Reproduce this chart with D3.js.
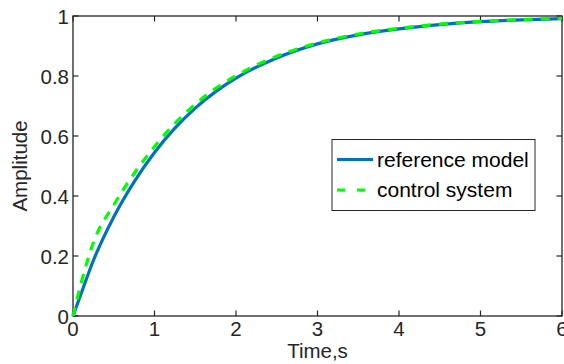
<!DOCTYPE html>
<html>
<head>
<meta charset="utf-8">
<script src="https://cdn.jsdelivr.net/npm/d3@7/dist/d3.min.js"></script>
<style>
  html, body { margin: 0; padding: 0; background: #fff; }
  svg { display: block; font-family: "Liberation Sans", Arial, sans-serif; }
</style>
</head>
<body>
<svg id="chart" width="564" height="364"></svg>
<script>
// Step responses sampled over time (s)
const timeSamples = [0, 0.1, 0.25, 0.5, 0.75, 1.0, 1.25, 1.5, 1.75, 2.0, 2.5, 3.0, 3.5, 4.0, 4.5, 5.0, 5.5, 6.0];
const referenceModel = [0, 0.075, 0.185, 0.33, 0.447, 0.545, 0.626, 0.693, 0.748, 0.793, 0.860, 0.907, 0.937, 0.957, 0.971, 0.981, 0.987, 0.991];
const controlSystem = [0, 0.11, 0.245, 0.37, 0.475, 0.565, 0.642, 0.706, 0.759, 0.801, 0.866, 0.910, 0.940, 0.959, 0.973, 0.982, 0.988, 0.992];
const xTicks = [0, 1, 2, 3, 4, 5, 6];
const yTicks = [0, 0.2, 0.4, 0.6, 0.8, 1];
const seriesNames = ["reference model", "control system"];

const svg = d3.select("#chart");
const plotL = 73, plotR = 562, plotT = 16, plotB = 316;
const axisColor = "#262626";

const x = d3.scaleLinear().domain([0, 6]).range([plotL, plotR]);
const y = d3.scaleLinear().domain([0, 1]).range([plotB, plotT]);

// Axes box
svg.append("rect")
  .attr("x", plotL).attr("y", plotT)
  .attr("width", plotR - plotL).attr("height", plotB - plotT)
  .attr("fill", "none").attr("stroke", axisColor).attr("stroke-width", 1.3);

// Inward ticks on all four sides
const tickLen = 5.5;
const tickG = svg.append("g").attr("stroke", axisColor).attr("stroke-width", 1.2);
xTicks.forEach(t => {
  tickG.append("line").attr("x1", x(t)).attr("x2", x(t)).attr("y1", plotB).attr("y2", plotB - tickLen);
  tickG.append("line").attr("x1", x(t)).attr("x2", x(t)).attr("y1", plotT).attr("y2", plotT + tickLen);
});
yTicks.forEach(v => {
  tickG.append("line").attr("x1", plotL).attr("x2", plotL + tickLen).attr("y1", y(v)).attr("y2", y(v));
  tickG.append("line").attr("x1", plotR).attr("x2", plotR - tickLen).attr("y1", y(v)).attr("y2", y(v));
});

// Tick labels
svg.append("g").selectAll("text").data(xTicks).join("text")
  .attr("x", d => x(d)).attr("y", 336)
  .attr("text-anchor", "middle")
  .attr("font-size", 20.5).attr("fill", axisColor)
  .text(d => d3.format("~g")(d));

svg.append("g").selectAll("text").data(yTicks).join("text")
  .attr("x", 69).attr("y", d => y(d) + 8)
  .attr("text-anchor", "end")
  .attr("font-size", 20.5).attr("fill", axisColor)
  .text(d => d3.format("~g")(d));

// Axis titles
svg.append("text")
  .attr("x", (plotL + plotR) / 2).attr("y", 358)
  .attr("text-anchor", "middle").attr("font-size", 20.5).attr("fill", axisColor)
  .text("Time,s");

svg.append("text")
  .attr("transform", `translate(27,${(plotT + plotB) / 2}) rotate(-90)`)
  .attr("text-anchor", "middle").attr("font-size", 20.5).attr("fill", axisColor)
  .text("Amplitude");

// Response curves
const line = d3.line()
  .x((d, i) => x(timeSamples[i]))
  .y(d => y(d))
  .curve(d3.curveMonotoneX);

svg.append("path")
  .attr("d", line(referenceModel))
  .attr("fill", "none").attr("stroke", "#0072BD").attr("stroke-width", 3.2);

svg.append("path")
  .attr("d", line(controlSystem))
  .attr("fill", "none").attr("stroke", "#00FF00").attr("stroke-width", 3.2)
  .attr("stroke-dasharray", "9,8");

// Legend
const lg = svg.append("g");
lg.append("rect")
  .attr("x", 332).attr("y", 139.5).attr("width", 203).attr("height", 71)
  .attr("fill", "#fff").attr("stroke", axisColor).attr("stroke-width", 1);
const legendRows = [
  { name: seriesNames[0], color: "#0072BD", dash: null, cy: 159.5 },
  { name: seriesNames[1], color: "#00FF00", dash: "8,12", cy: 190 }
];
legendRows.forEach(r => {
  const l = lg.append("line")
    .attr("x1", 337).attr("x2", 373).attr("y1", r.cy).attr("y2", r.cy)
    .attr("stroke", r.color).attr("stroke-width", 3.2);
  if (r.dash) l.attr("stroke-dasharray", r.dash);
  lg.append("text")
    .attr("x", 377).attr("y", r.cy + 7)
    .attr("font-size", 21).attr("fill", "#000")
    .text(r.name);
});
</script>
</body>
</html>
